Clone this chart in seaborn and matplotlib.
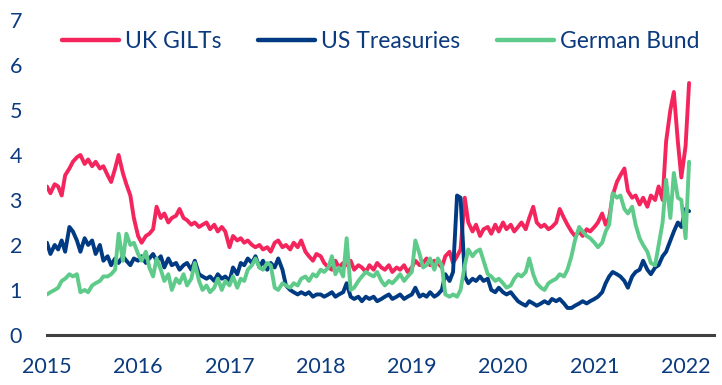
import pandas as pd
import matplotlib
matplotlib.use("Agg")
import matplotlib.pyplot as plt
import matplotlib.dates as mdates
import seaborn as sns

# semi-monthly observations, Jan 2015 - Jan 2022
dates = pd.date_range("2015-01-01", periods=170, freq="SMS")

uk_gilts = [
    3.3, 3.15, 3.35, 3.3, 3.1, 3.55, 3.7, 3.85, 3.95, 4.0, 3.8, 3.9,
    3.75, 3.85, 3.7, 3.75, 3.55, 3.4, 3.7, 4.0, 3.6, 3.35, 3.1, 2.6,
    2.2, 2.05, 2.2, 2.25, 2.35, 2.85, 2.6, 2.7, 2.5, 2.6, 2.65, 2.8,
    2.6, 2.55, 2.45, 2.5, 2.4, 2.45, 2.5, 2.35, 2.45, 2.3, 2.4, 2.3,
    1.95, 2.2, 2.1, 2.15, 2.05, 2.1, 2.0, 1.95, 2.0, 1.9, 1.95, 1.85,
    2.05, 2.1, 1.95, 2.0, 1.9, 2.05, 1.95, 2.1, 1.85, 1.75, 1.65, 1.8,
    1.75, 1.6, 1.5, 1.45, 1.65, 1.5, 1.6, 1.55, 1.65, 1.45, 1.55, 1.5,
    1.4, 1.55, 1.45, 1.6, 1.5, 1.45, 1.55, 1.4, 1.5, 1.45, 1.55, 1.4,
    1.5, 1.65, 1.55, 1.6, 1.7, 1.55, 1.65, 1.6, 1.5, 1.75, 1.85, 1.6,
    1.75, 1.9, 3.05, 2.5, 2.3, 2.45, 2.2, 2.35, 2.4, 2.25, 2.45, 2.3,
    2.5, 2.35, 2.45, 2.3, 2.4, 2.5, 2.35, 2.6, 2.85, 2.5, 2.4, 2.45,
    2.35, 2.4, 2.5, 2.8, 2.6, 2.45, 2.3, 2.2, 2.3, 2.2, 2.35, 2.3,
    2.4, 2.5, 2.7, 2.45, 2.6, 3.1, 3.4, 3.55, 3.7, 3.2, 3.05, 3.1,
    2.9, 3.05, 2.85, 3.1, 3.0, 3.3, 3.0, 4.3, 5.0, 5.4, 4.3, 3.5,
    4.2, 5.6,
]

us_treasuries = [
    2.05, 1.8, 2.0, 1.9, 2.1, 1.85, 2.4, 2.3, 2.1, 1.85, 2.15, 2.0,
    2.1, 1.8, 2.0, 1.65, 1.75, 1.55, 1.7, 1.6, 1.75, 1.65, 1.55, 1.7,
    1.65, 1.75, 1.6, 1.7, 1.8, 1.65, 1.75, 1.5, 1.7, 1.55, 1.6, 1.45,
    1.55, 1.6, 1.45, 1.65, 1.35, 1.3, 1.25, 1.3, 1.2, 1.35, 1.25, 1.3,
    1.2, 1.5, 1.35, 1.6, 1.55, 1.7, 1.6, 1.75, 1.5, 1.65, 1.45, 1.6,
    1.5, 1.7, 1.45, 1.1, 1.0, 0.95, 0.9, 0.95, 0.9, 0.95, 0.85, 0.9,
    0.9, 0.85, 0.9, 0.95, 0.85, 0.9, 0.95, 1.15, 0.85, 0.8, 0.85, 0.75,
    0.85, 0.8, 0.85, 0.75, 0.8, 0.85, 0.9, 0.8, 0.85, 0.9, 0.8, 0.85,
    0.9, 1.05, 0.85, 0.9, 0.85, 0.95, 0.85, 0.9, 1.0, 1.35, 1.2, 1.4,
    3.1, 3.05, 1.3, 1.15, 1.25, 1.2, 1.3, 1.2, 1.25, 1.0, 0.95, 1.05,
    0.95, 0.9, 0.95, 0.85, 0.75, 0.7, 0.65, 0.75, 0.7, 0.65, 0.7, 0.75,
    0.7, 0.8, 0.75, 0.8, 0.7, 0.6, 0.6, 0.65, 0.7, 0.75, 0.7, 0.75,
    0.8, 0.85, 0.95, 1.15, 1.3, 1.4, 1.35, 1.3, 1.2, 1.05, 1.3, 1.4,
    1.45, 1.65, 1.45, 1.35, 1.5, 1.55, 1.75, 1.85, 2.1, 2.3, 2.5, 2.4,
    2.8, 2.75,
]

german_bund = [
    0.9, 0.95, 1.0, 1.05, 1.2, 1.25, 1.35, 1.3, 1.35, 0.95, 1.0, 0.95,
    1.1, 1.15, 1.2, 1.3, 1.3, 1.35, 1.45, 2.25, 1.65, 2.25, 2.0, 2.05,
    1.8, 1.65, 1.85, 1.5, 1.3, 1.7, 1.45, 1.2, 1.35, 1.0, 1.25, 1.15,
    1.35, 1.1, 1.25, 1.6, 1.2, 1.0, 1.1, 0.95, 1.05, 1.25, 1.0, 1.2,
    1.1, 1.3, 1.05, 1.25, 1.2, 1.45, 1.55, 1.7, 1.5, 1.45, 1.6, 1.55,
    1.05, 1.0, 1.15, 1.1, 1.05, 1.15, 1.1, 1.25, 1.3, 1.2, 1.35, 1.3,
    1.45, 1.4, 1.5, 1.75, 1.35, 1.5, 1.3, 2.15, 1.0, 1.05, 1.2, 1.3,
    1.4, 1.35, 1.3, 1.4, 1.2, 1.1, 1.2, 1.15, 1.25, 1.35, 1.2, 1.3,
    1.4, 2.1, 1.8, 1.5, 1.55, 1.7, 1.45, 1.7, 1.55, 0.9, 0.85, 0.9,
    0.85, 1.0, 1.55, 1.9, 1.75, 1.85, 1.9, 1.65, 1.35, 1.3, 1.2, 1.25,
    1.15, 1.05, 1.1, 1.25, 1.35, 1.3, 1.4, 1.7, 1.35, 1.15, 1.05, 1.0,
    1.15, 1.2, 1.25, 1.35, 1.3, 1.45, 1.75, 2.1, 2.4, 2.3, 2.2, 2.15,
    2.05, 1.95, 2.05, 2.3, 2.45, 3.15, 3.05, 3.1, 2.8, 2.7, 2.85, 2.45,
    2.15, 2.0, 1.85, 1.6, 1.55, 2.0, 2.5, 3.45, 2.6, 3.6, 3.05, 3.0,
    2.15, 3.85,
]

series_names = ["UK GILTs", "US Treasuries", "German Bund"]
year_ticks = pd.to_datetime([f"{y}-01-01" for y in range(2015, 2023)])
y_ticks = [0, 1, 2, 3, 4, 5, 6, 7]

colors = {"UK GILTs": "#F4255C", "US Treasuries": "#003A82", "German Bund": "#5ECB8A"}
text_color = "#0B3A7E"

df = pd.DataFrame({"date": dates, "UK GILTs": uk_gilts,
                   "US Treasuries": us_treasuries, "German Bund": german_bund})
long_df = df.melt(id_vars="date", var_name="series", value_name="yield")

sns.set_theme(style="white")
plt.rcParams["font.family"] = ["Lato", "DejaVu Sans"]

fig = plt.figure(figsize=(7.22, 3.85), dpi=100)
ax = fig.add_axes([0.065, 0.13, 0.924, 0.818])

sns.lineplot(data=long_df, x="date", y="yield", hue="series",
             hue_order=series_names, palette=colors, linewidth=2.8, ax=ax)

ax.set_xlim(pd.Timestamp("2015-01-01"), pd.Timestamp("2022-04-25"))
ax.set_ylim(0, 7)
ax.set_xticks(year_ticks)
ax.xaxis.set_major_formatter(mdates.DateFormatter("%Y"))
ax.set_yticks(y_ticks)
ax.set_xlabel("")
ax.set_ylabel("")

for side in ["top", "right", "left"]:
    ax.spines[side].set_visible(False)
ax.spines["bottom"].set_color("#404040")
ax.spines["bottom"].set_linewidth(2.2)

ax.tick_params(axis="x", colors="#404040", length=5, width=2, direction="out",
               labelcolor=text_color, labelsize=15.5, pad=11)
ax.tick_params(axis="y", length=0, labelcolor=text_color, labelsize=15.5, pad=18)

leg = ax.legend(loc="upper center", bbox_to_anchor=(0.5, 1.0), ncol=3,
                frameon=False, fontsize=16.5, handlelength=2.5,
                handletextpad=0.25, columnspacing=1.6, borderaxespad=0.1)
for line in leg.get_lines():
    line.set_linewidth(3.2)
for t in leg.get_texts():
    t.set_color(text_color)

fig.savefig("out.png", dpi=100)
